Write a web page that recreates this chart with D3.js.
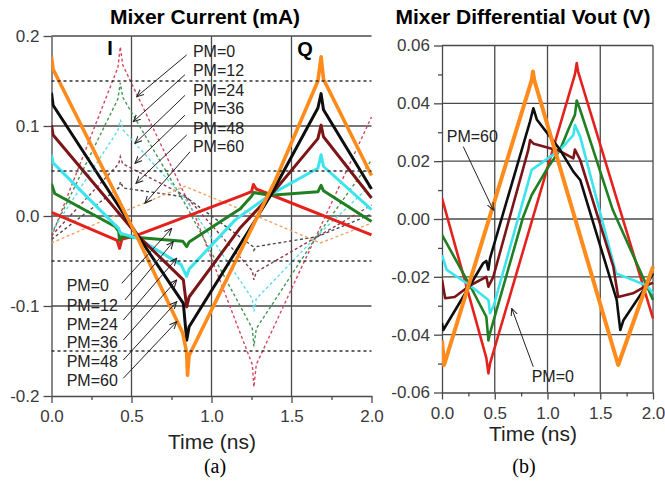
<!DOCTYPE html>
<html>
<head>
<meta charset="utf-8">
<script src="https://cdn.jsdelivr.net/npm/d3@7"></script>
<style>
  body { margin: 0; background: #fff; }
  svg text { font-family: "Liberation Sans", Arial, sans-serif; }
</style>
</head>
<body>
<div id="chart"></div>
<script>
// ---- data ----
var pmLabels = ["PM=0", "PM=12", "PM=24", "PM=36", "PM=48", "PM=60"];
var solidColors = ["#e3221d", "#1f7f22", "#3ce4ee", "#7b1518", "#0e0e0e", "#ff8b1c"];
var dashColors = ["#d4485f", "#449652", "#5fdbe6", "#883e50", "#4a4a4a", "#f0a468"];

var timeTicks = [0, 0.5, 1.0, 1.5, 2.0];
var timeMinor = [0.25, 0.75, 1.25, 1.75];
var currentTicks = [0.2, 0.1, 0.0, -0.1, -0.2];
var currentHalfTicks = [0.15, 0.05, -0.05, -0.15];
var voutTicks = [0.06, 0.04, 0.02, 0.0, -0.02, -0.04, -0.06];
var voutMinor = [0.05, 0.03, 0.01, -0.01, -0.03, -0.05];

// Q current (solid), one list per PM, [time ns, mA]
var currentQ = [
  [[0,0.004],[0.41,-0.027],[0.425,-0.036],[0.44,-0.026],[0.54,-0.021],[1.18,0.022],[1.25,0.027],[1.262,0.035],[1.28,0.030],[2.0,-0.021]],
  [[0,0.036],[0.02,0.025],[0.40,-0.012],[0.42,-0.017],[0.425,-0.027],[0.44,-0.023],[0.54,-0.024],[0.82,-0.028],[0.845,-0.034],[0.86,-0.029],[1.18,0.008],[1.25,0.022],[1.265,0.026],[1.37,0.023],[1.665,0.027],[1.685,0.034],[1.70,0.028],[2.0,-0.006]],
  [[0,0.068],[0.01,0.059],[0.42,-0.014],[0.43,-0.019],[0.54,-0.025],[0.81,-0.054],[0.845,-0.067],[0.86,-0.059],[1.15,-0.004],[1.37,0.024],[1.665,0.053],[1.685,0.068],[1.70,0.055],[2.0,0.007]],
  [[0,0.101],[0.01,0.090],[0.54,-0.022],[0.824,-0.071],[0.845,-0.101],[0.86,-0.090],[1.18,-0.013],[1.37,0.023],[1.665,0.086],[1.685,0.101],[1.70,0.088],[2.0,0.020]],
  [[0,0.137],[0.01,0.123],[0.54,-0.022],[0.824,-0.097],[0.845,-0.138],[0.86,-0.123],[1.37,0.023],[1.665,0.120],[1.685,0.136],[1.70,0.118],[2.0,0.030]],
  [[0,0.177],[0.01,0.163],[0.54,-0.025],[0.82,-0.130],[0.845,-0.152],[0.85,-0.177],[0.86,-0.155],[1.40,0.040],[1.665,0.150],[1.685,0.177],[1.70,0.152],[2.0,0.045]]
];

// I current (dashed), one list per PM
var currentI = [
  [[0,-0.023],[0.415,0.165],[0.43,0.188],[0.445,0.168],[0.90,-0.001],[1.255,-0.165],[1.265,-0.190],[1.28,-0.165],[1.66,-0.020],[2.0,0.110]],
  [[0,-0.020],[0.415,0.130],[0.43,0.148],[0.445,0.132],[0.84,0.012],[1.255,-0.125],[1.265,-0.145],[1.28,-0.125],[1.66,-0.022],[2.0,0.062]],
  [[0,-0.018],[0.415,0.095],[0.43,0.107],[0.445,0.096],[0.84,0.018],[1.255,-0.092],[1.265,-0.106],[1.28,-0.092],[1.66,-0.022],[2.0,0.035]],
  [[0,-0.022],[0.42,0.058],[0.43,0.066],[0.445,0.058],[0.84,0.022],[1.255,-0.061],[1.265,-0.071],[1.28,-0.062],[1.66,-0.023],[2.0,0.012]],
  [[0,-0.026],[0.425,0.032],[0.43,0.038],[0.45,0.031],[0.84,0.021],[1.26,-0.034],[1.265,-0.038],[1.28,-0.034],[1.66,-0.023],[2.0,0.002]],
  [[0,-0.030],[0.52,0.010],[0.834,0.033],[1.147,0.010],[1.68,-0.030],[2.0,-0.008]]
];

// differential Vout, one list per PM, [time ns, V]
var vout = [
  [[0,0.0072],[0.42,-0.048],[0.44,-0.0534],[0.455,-0.050],[1.26,0.050],[1.277,0.0539],[1.29,0.051],[2.0,-0.0344]],
  [[0,-0.0055],[0.265,-0.023],[0.42,-0.0338],[0.44,-0.042],[0.455,-0.0395],[0.77,0.0008],[0.85,0.0083],[0.99,0.017],[1.118,0.0239],[1.21,0.032],[1.26,0.036],[1.277,0.041],[1.31,0.0377],[1.62,0.003],[1.94,-0.023],[2.0,-0.028]],
  [[0,-0.0125],[0.045,-0.0176],[0.265,-0.023],[0.44,-0.028],[0.455,-0.0326],[0.49,-0.030],[0.85,0.017],[1.118,0.0239],[1.245,0.029],[1.26,0.0325],[1.31,0.0285],[1.65,-0.0188],[1.94,-0.023],[2.0,-0.0257]],
  [[0,-0.021],[0.03,-0.0274],[0.12,-0.027],[0.265,-0.023],[0.42,-0.020],[0.44,-0.0234],[0.486,-0.020],[0.818,0.0239],[0.835,0.0273],[0.87,0.026],[1.118,0.0235],[1.245,0.021],[1.26,0.024],[1.31,0.0204],[1.624,-0.0165],[1.67,-0.027],[1.81,-0.0257],[1.94,-0.023],[2.0,-0.022]],
  [[0,-0.036],[0.012,-0.0384],[0.265,-0.023],[0.39,-0.0153],[0.42,-0.0145],[0.44,-0.0175],[0.455,-0.0136],[0.834,0.0337],[0.866,0.0383],[0.90,0.0343],[1.118,0.024],[1.245,0.0164],[1.31,0.0135],[1.656,-0.028],[1.69,-0.0384],[1.72,-0.035],[1.94,-0.023],[2.0,-0.0188]],
  [[0,-0.042],[0.02,-0.0505],[0.85,0.048],[0.862,0.051],[0.875,0.048],[1.67,-0.0505],[2.0,-0.0165]]
];

// annotation arrows, in data units: [label t, label v, arrow start t, start v, tip t, tip v]
var noteTopA = [
  [0.884, 0.1826, 0.845, 0.179, 0.5325, 0.1326],
  [0.884, 0.1622, 0.834, 0.157, 0.511, 0.1048],
  [0.884, 0.1400, 0.834, 0.134, 0.522, 0.0808],
  [0.884, 0.1197, 0.834, 0.112, 0.522, 0.0586],
  [0.884, 0.0974, 0.845, 0.090, 0.528, 0.0363],
  [0.884, 0.0770, 0.866, 0.0714, 0.584, 0.0141]
];
var noteBottomA = [
  [0.095, -0.0767, 0.439, -0.0748, 0.751, -0.0137],
  [0.095, -0.0989, 0.459, -0.0933, 0.761, -0.0286],
  [0.095, -0.1200, 0.449, -0.1156, 0.7825, -0.047],
  [0.095, -0.1408, 0.449, -0.1378, 0.7825, -0.0711],
  [0.095, -0.1619, 0.449, -0.1600, 0.7825, -0.0952],
  [0.095, -0.1830, 0.449, -0.1803, 0.7825, -0.1174]
];
var noteB = [
  ["PM=60", 0.045, 0.0285, 0.202, 0.025, 0.486, 0.0031],
  ["PM=0", 0.85, -0.0546, 0.865, -0.0511, 0.661, -0.0309]
];

// ---- drawing ----
var svg = d3.select("#chart").append("svg")
  .attr("width", 665)
  .attr("height", 483);

svg.append("defs").append("marker")
  .attr("id", "arrow")
  .attr("viewBox", "0 0 10 10")
  .attr("refX", 9).attr("refY", 5)
  .attr("markerWidth", 8).attr("markerHeight", 8)
  .attr("markerUnits", "userSpaceOnUse")
  .attr("orient", "auto")
  .append("path")
  .attr("d", "M0,1 L9,5 L0,9")
  .attr("fill", "none")
  .attr("stroke", "#222")
  .attr("stroke-width", 1.3);

var gridColor = "#4a4a4a";
var textColor = "#3a3a3a";

function panel(id, xRange, yDomain, yRange, yTicks, yFmt, yMinor, vGrid, hGrid) {
  var x = d3.scaleLinear().domain([0, 2]).range(xRange);
  var y = d3.scaleLinear().domain(yDomain).range(yRange);
  var g = svg.append("g").attr("class", id);

  svg.select("defs").append("clipPath").attr("id", "clip-" + id)
    .append("rect")
    .attr("x", xRange[0]).attr("y", yRange[1])
    .attr("width", xRange[1] - xRange[0] + 2)
    .attr("height", yRange[0] - yRange[1]);

  // gridlines
  g.selectAll(".vgrid").data(vGrid).enter().append("line")
    .attr("x1", d => x(d)).attr("x2", d => x(d))
    .attr("y1", yRange[0]).attr("y2", yRange[1])
    .attr("stroke", gridColor).attr("stroke-width", 1.3);
  g.selectAll(".hgrid").data(hGrid).enter().append("line")
    .attr("x1", xRange[0]).attr("x2", xRange[1])
    .attr("y1", d => y(d)).attr("y2", d => y(d))
    .attr("stroke", gridColor).attr("stroke-width", 1.3);

  // axes
  g.append("g")
    .attr("transform", `translate(0, ${yRange[0]})`)
    .call(d3.axisBottom(x).tickValues(timeTicks).tickFormat(d => d.toFixed(1)).tickSize(7).tickPadding(7).tickSizeOuter(0));
  g.append("g")
    .attr("transform", `translate(0, ${yRange[0]})`)
    .call(d3.axisBottom(x).tickValues(timeMinor).tickFormat("").tickSize(4).tickSizeOuter(0))
    .select(".domain").remove();
  g.append("g")
    .attr("transform", `translate(${xRange[0]}, 0)`)
    .call(d3.axisLeft(y).tickValues(yTicks).tickFormat(yFmt).tickSize(8).tickPadding(4).tickSizeOuter(0));
  if (yMinor) {
    g.append("g")
      .attr("transform", `translate(${xRange[0]}, 0)`)
      .call(d3.axisLeft(y).tickValues(yMinor).tickFormat("").tickSize(4).tickSizeOuter(0))
      .select(".domain").remove();
  }
  g.selectAll(".domain, .tick line").attr("stroke", gridColor).attr("stroke-width", 1.3);
  g.selectAll(".tick text")
    .attr("font-size", "17px")
    .attr("fill", textColor)
    .attr("font-family", "'Liberation Sans', Arial, sans-serif");

  var plot = g.append("g").attr("clip-path", `url(#clip-${id})`);
  return { x: x, y: y, g: g, plot: plot };
}

// ---------- panel (a) ----------
var pa = panel("pa", [51.5, 371.5], [-0.2, 0.2], [396, 36],
  currentTicks, d => d.toFixed(1), null, [0.5, 1.0, 1.5], [0.2, 0.1, 0.0, -0.1]);

pa.g.selectAll(".halfgrid").data(currentHalfTicks).enter().append("line")
  .attr("x1", pa.x(0)).attr("x2", pa.x(2))
  .attr("y1", d => pa.y(d)).attr("y2", d => pa.y(d))
  .attr("stroke", "#333").attr("stroke-width", 1.3)
  .attr("stroke-dasharray", "3,3");

var lineA = d3.line().x(d => pa.x(d[0])).y(d => pa.y(d[1]));

pa.plot.selectAll(".idash").data(currentI).enter().append("path")
  .attr("d", lineA)
  .attr("fill", "none")
  .attr("stroke", (d, i) => dashColors[i])
  .attr("stroke-width", 1.4)
  .attr("stroke-dasharray", "3,2.5");

pa.plot.selectAll(".qsolid").data(currentQ).enter().append("path")
  .attr("d", lineA)
  .attr("fill", "none")
  .attr("stroke", (d, i) => solidColors[i])
  .attr("stroke-width", (d, i) => i == 5 ? 3.6 : 3)
  .attr("stroke-linejoin", "round");

// I / Q labels
pa.g.append("text").attr("x", pa.x(0.366)).attr("y", pa.y(0.187))
  .attr("dy", "0.35em").attr("text-anchor", "middle")
  .attr("font-size", "20px").attr("font-weight", "bold").text("I");
pa.g.append("text").attr("x", pa.x(1.584)).attr("y", pa.y(0.186))
  .attr("dy", "0.35em").attr("text-anchor", "middle")
  .attr("font-size", "20px").attr("font-weight", "bold").text("Q");

function notes(p, rows, labels) {
  rows.forEach(function(r, i) {
    p.g.append("line")
      .attr("x1", p.x(r[2])).attr("y1", p.y(r[3]))
      .attr("x2", p.x(r[4])).attr("y2", p.y(r[5]))
      .attr("stroke", "#222").attr("stroke-width", 1)
      .attr("marker-end", "url(#arrow)");
    p.g.append("text")
      .attr("x", p.x(r[0])).attr("y", p.y(r[1]))
      .attr("dy", "0.35em")
      .attr("font-size", "16px").attr("fill", "#222")
      .text(labels[i]);
  });
}
notes(pa, noteTopA, pmLabels);
notes(pa, noteBottomA, pmLabels);

svg.append("text").attr("x", 205).attr("y", 24).attr("text-anchor", "middle")
  .attr("font-size", "21px").attr("font-weight", "bold").text("Mixer Current (mA)");
svg.append("text").attr("x", 212).attr("y", 449).attr("text-anchor", "middle")
  .attr("font-size", "21px").attr("fill", "#222").text("Time (ns)");
svg.append("text").attr("x", 215).attr("y", 473).attr("text-anchor", "middle")
  .attr("font-size", "20px").style("font-family", "'Liberation Serif', 'Times New Roman', serif").text("(a)");

// ---------- panel (b) ----------
var pb = panel("pb", [442, 653], [-0.06, 0.06], [392.5, 45.5],
  voutTicks, d => d.toFixed(2), voutMinor, [0.5, 1.0, 1.5, 2.0], [0.06, 0.04, 0.02, 0.0, -0.02, -0.04]);

var lineB = d3.line().x(d => pb.x(d[0])).y(d => pb.y(d[1]));

pb.plot.selectAll(".vout").data(vout).enter().append("path")
  .attr("d", lineB)
  .attr("fill", "none")
  .attr("stroke", (d, i) => solidColors[i])
  .attr("stroke-width", (d, i) => i == 5 ? 4 : 2.6)
  .attr("stroke-linejoin", "round");

noteB.forEach(function(r) {
  pb.g.append("line")
    .attr("x1", pb.x(r[3])).attr("y1", pb.y(r[4]))
    .attr("x2", pb.x(r[5])).attr("y2", pb.y(r[6]))
    .attr("stroke", "#222").attr("stroke-width", 1)
    .attr("marker-end", "url(#arrow)");
  pb.g.append("text")
    .attr("x", pb.x(r[1])).attr("y", pb.y(r[2]))
    .attr("dy", "0.35em")
    .attr("font-size", "16px").attr("fill", "#222")
    .text(r[0]);
});

svg.append("text").attr("x", 523).attr("y", 24).attr("text-anchor", "middle")
  .attr("font-size", "21px").attr("font-weight", "bold").text("Mixer Differential Vout (V)");
svg.append("text").attr("x", 533).attr("y", 441).attr("text-anchor", "middle")
  .attr("font-size", "21px").attr("fill", "#222").text("Time (ns)");
svg.append("text").attr("x", 524).attr("y", 473).attr("text-anchor", "middle")
  .attr("font-size", "20px").style("font-family", "'Liberation Serif', 'Times New Roman', serif").text("(b)");
</script>
</body>
</html>
